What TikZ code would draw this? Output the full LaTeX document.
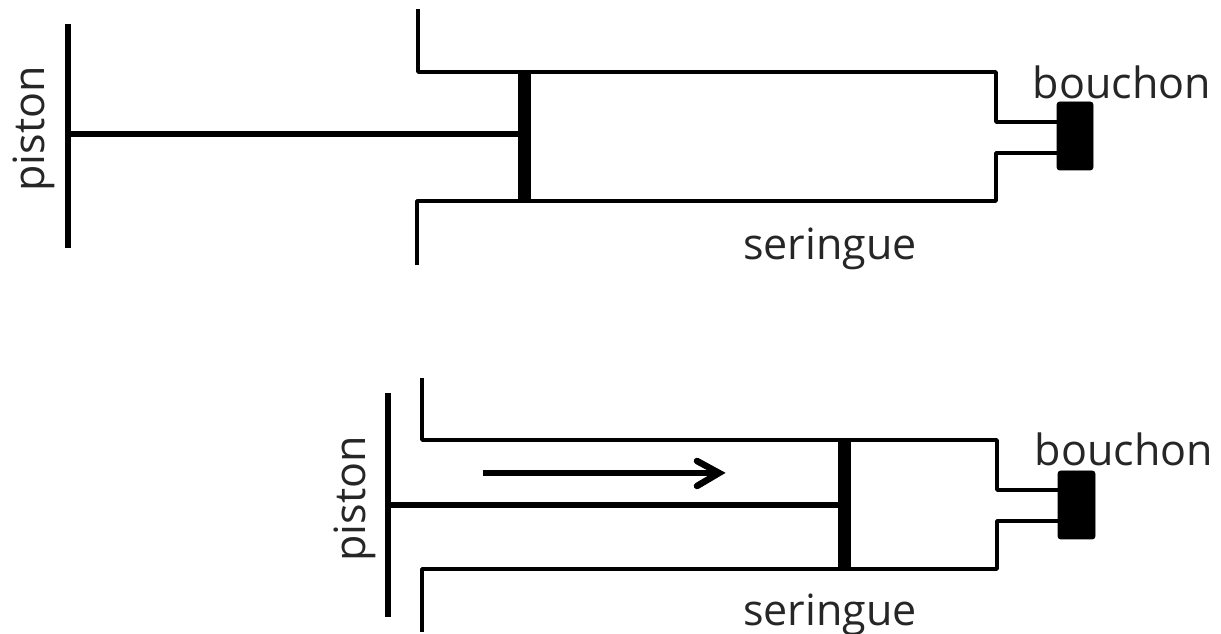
\documentclass[tikz,border=0pt]{standalone}
\usepackage{fontspec}
\setmainfont{Open Sans}
\tikzset{
    wall/.style={black, line width=2pt, line join=round},
    rod/.style={black, line width=3.7pt},
    label/.style={inner sep=0pt, font=\fontsize{24.5}{30}\selectfont, text=black!85},
}
\begin{document}
\begin{tikzpicture}[x=0.02cm, y=-0.02cm]
    \useasboundingbox (0,0) rectangle (1221,634);

    % syringe at rest
    \draw[wall] (418,9) -- (418,72) -- (996,72) -- (996,122) -- (1060,122);
    \draw[wall] (417,265) -- (417,201) -- (996,201) -- (996,153) -- (1060,153);
    \filldraw[black, rounded corners=1.5pt] (1057,102) rectangle (1093,170);

    \draw[rod] (68,24) -- (68,248);
    \draw[rod] (68,134) -- (520,134);
    \draw[black, line width=7.4pt] (524,72) -- (524,201);

    \node[label, rotate=90] (pistonA) at (34,129) {piston};
    \node[label] (seringueA) at (830,249) {seringue};
    \node[label] (bouchonA) at (1122,82) {bouchon};

    % syringe pushed in
    \draw[wall] (422,378) -- (422,440) -- (997,440) -- (997,490) -- (1060,490);
    \draw[wall] (422,632) -- (422,569) -- (997,569) -- (997,521) -- (1060,521);
    \filldraw[black, rounded corners=1.5pt] (1058,471) rectangle (1095,539);

    \draw[rod] (388,393) -- (388,617);
    \draw[rod] (388,505) -- (840,505);
    \draw[black, line width=7.4pt] (844,440) -- (844,570);

    \draw[rod] (483,473) -- (716,473);
    \draw[rod, line cap=round, line join=miter] (697,461) -- (719,473) -- (697,486);

    \node[label, rotate=90] (pistonB) at (355,499) {piston};
    \node[label] (seringueB) at (830,614.5) {seringue};
    \node[label] (bouchonB) at (1124,449) {bouchon};
\end{tikzpicture}
\end{document}
